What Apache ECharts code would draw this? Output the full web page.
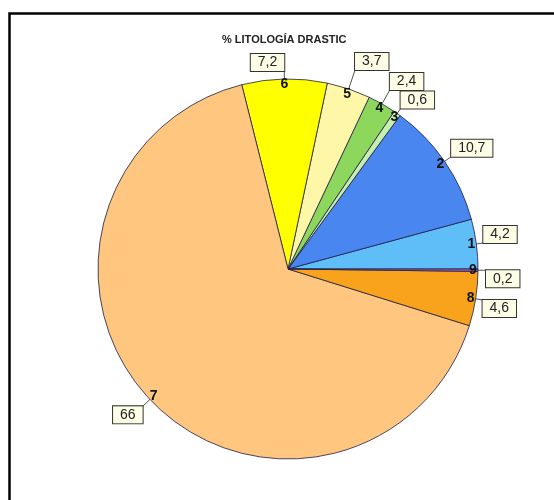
<!DOCTYPE html>
<html>
<head>
<meta charset="utf-8">
<script src="https://cdn.jsdelivr.net/npm/echarts@6/dist/echarts.min.js"></script>
<style>
html,body{margin:0;padding:0;background:#fff;}
#chart{width:554px;height:500px;}
</style>
</head>
<body>
<div id="chart"></div>
<script>
const titleText = '% LITOLOGÍA DRASTIC';
const categories = ['1', '2', '3', '4', '5', '6', '7', '8', '9'];
const values = [4.2, 10.7, 0.6, 2.4, 3.7, 7.2, 66, 4.6, 0.2];
const sliceColors = ['#5fbdf8', '#4a86ef', '#c6eeb0', '#8cd75c', '#fff7a8', '#ffff00', '#fec67e', '#f9a21c', '#a45fa8'];
const leaderLen = [7, 8, 6, 16, 20, 8, 10, 7, 8];

const CX = 288, CY = 269, R = 190;
const total = values.reduce((a, b) => a + b, 0);
const midAngles = [];
let cum = 0;
values.forEach(v => { midAngles.push((cum + v / 2) / total * 2 * Math.PI); cum += v; });

const chart = echarts.init(document.getElementById('chart'), null, { renderer: 'canvas' });
const pieData = categories.map((c, i) => ({ name: c, value: values[i], itemStyle: { color: sliceColors[i] } }));

chart.setOption({
  backgroundColor: '#ffffff',
  animation: false,
  title: {
    text: titleText,
    left: 222, top: 34, padding: 0,
    textStyle: { fontFamily: 'Liberation Sans, Arial, sans-serif', fontSize: 11, fontWeight: 'bold', color: '#222' }
  },
  graphic: [{
    type: 'rect', silent: true,
    shape: { x: 9.5, y: 13.5, width: 700, height: 700 },
    style: { fill: null, stroke: '#000', lineWidth: 2.5 }
  }],
  series: [
    {
      type: 'pie',
      center: [CX, CY],
      radius: [0, R],
      startAngle: 0,
      clockwise: false,
      avoidLabelOverlap: false,
      silent: true,
      data: pieData,
      itemStyle: { borderColor: '#1e1e46', borderWidth: 0.8 },
      label: {
        show: true,
        position: 'outside',
        formatter: p => String(p.value).replace('.', ','),
        fontFamily: 'Liberation Sans, Arial, sans-serif',
        fontSize: 14,
        lineHeight: 15,
        color: '#222',
        backgroundColor: '#fdfde6',
        borderColor: '#333',
        borderWidth: 1,
        padding: [1, 7, 1, 7]
      },
      labelLine: { show: true, lineStyle: { color: '#555', width: 1 } },
      labelLayout: function (params) {
        const i = params.dataIndex;
        const a = midAngles[i];
        const c = Math.cos(a), s = Math.sin(a);
        const p0 = [CX + R * c, CY - R * s];
        const L = leaderLen[i];
        const p1 = [p0[0] + L * c, p0[1] - L * s];
        return {
          x: p1[0], y: p1[1],
          align: c >= 0 ? 'left' : 'right',
          verticalAlign: s >= 0 ? 'bottom' : 'top',
          labelLinePoints: [p0, p1, p1]
        };
      }
    },
    {
      type: 'pie',
      center: [CX, CY],
      radius: [174, 190],
      startAngle: 0,
      clockwise: false,
      silent: true,
      avoidLabelOverlap: false,
      data: categories.map((c, i) => ({ name: c, value: values[i] })),
      itemStyle: { color: 'rgba(0,0,0,0)', borderWidth: 0 },
      label: {
        show: true,
        position: 'inside',
        formatter: '{b}',
        fontFamily: 'Liberation Sans, Arial, sans-serif',
        fontSize: 14,
        fontWeight: 'bold',
        color: '#111',
        textBorderWidth: 0
      },
      labelLine: { show: false }
    }
  ]
});
</script>
</body>
</html>
